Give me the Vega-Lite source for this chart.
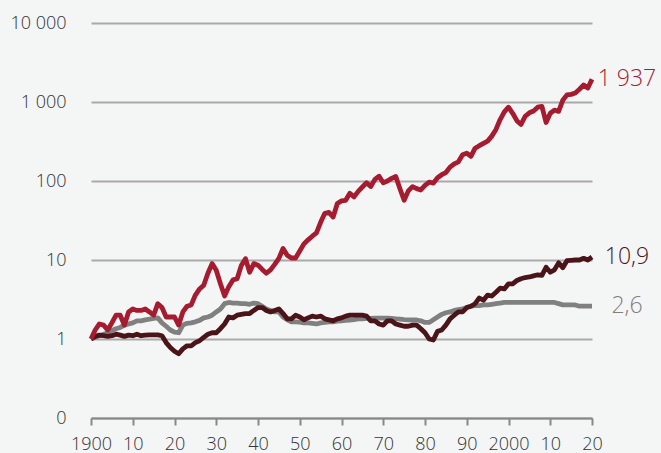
{
  "$schema": "https://vega.github.io/schema/vega-lite/v6.json",
  "width": 501,
  "height": 395,
  "autosize": "none",
  "padding": {"left": 91, "top": 23, "right": 69, "bottom": 35},
  "background": "#f4f5f5",
  "config": {
    "view": {"stroke": null},
    "font": "Open Sans",
    "axis": {"labelFont": "Open Sans", "labelColor": "#333333", "labelFontSize": 18, "labelFontWeight": 300}
  },
  "datasets": {
    "series": [
      {"year":1900,"Red":1.0,"Dark":1.0,"Gray":1.0},
      {"year":1901,"Red":1.3,"Dark":1.08,"Gray":1.05},
      {"year":1902,"Red":1.55,"Dark":1.12,"Gray":1.1},
      {"year":1903,"Red":1.5,"Dark":1.1,"Gray":1.15},
      {"year":1904,"Red":1.3,"Dark":1.08,"Gray":1.2},
      {"year":1905,"Red":1.6,"Dark":1.1,"Gray":1.28},
      {"year":1906,"Red":2.0,"Dark":1.15,"Gray":1.35},
      {"year":1907,"Red":2.0,"Dark":1.12,"Gray":1.4},
      {"year":1908,"Red":1.5,"Dark":1.08,"Gray":1.5},
      {"year":1909,"Red":2.2,"Dark":1.12,"Gray":1.55},
      {"year":1910,"Red":2.4,"Dark":1.1,"Gray":1.6},
      {"year":1911,"Red":2.3,"Dark":1.15,"Gray":1.7},
      {"year":1912,"Red":2.3,"Dark":1.1,"Gray":1.7},
      {"year":1913,"Red":2.4,"Dark":1.12,"Gray":1.75},
      {"year":1914,"Red":2.2,"Dark":1.13,"Gray":1.78},
      {"year":1915,"Red":2.0,"Dark":1.13,"Gray":1.82},
      {"year":1916,"Red":2.8,"Dark":1.13,"Gray":1.85},
      {"year":1917,"Red":2.5,"Dark":1.1,"Gray":1.6},
      {"year":1918,"Red":1.9,"Dark":0.9,"Gray":1.45},
      {"year":1919,"Red":1.9,"Dark":0.78,"Gray":1.3},
      {"year":1920,"Red":1.9,"Dark":0.7,"Gray":1.22},
      {"year":1921,"Red":1.5,"Dark":0.65,"Gray":1.2},
      {"year":1922,"Red":2.2,"Dark":0.75,"Gray":1.5},
      {"year":1923,"Red":2.6,"Dark":0.82,"Gray":1.58},
      {"year":1924,"Red":2.7,"Dark":0.82,"Gray":1.6},
      {"year":1925,"Red":3.6,"Dark":0.9,"Gray":1.65},
      {"year":1926,"Red":4.3,"Dark":0.95,"Gray":1.72},
      {"year":1927,"Red":4.8,"Dark":1.05,"Gray":1.85},
      {"year":1928,"Red":6.8,"Dark":1.15,"Gray":1.9},
      {"year":1929,"Red":9.0,"Dark":1.2,"Gray":2.0},
      {"year":1930,"Red":7.4,"Dark":1.2,"Gray":2.2},
      {"year":1931,"Red":5.0,"Dark":1.35,"Gray":2.4},
      {"year":1932,"Red":3.5,"Dark":1.55,"Gray":2.8},
      {"year":1933,"Red":4.6,"Dark":1.9,"Gray":2.9},
      {"year":1934,"Red":5.6,"Dark":1.85,"Gray":2.85},
      {"year":1935,"Red":5.8,"Dark":2.0,"Gray":2.85},
      {"year":1936,"Red":8.5,"Dark":2.05,"Gray":2.8},
      {"year":1937,"Red":10.4,"Dark":2.1,"Gray":2.8},
      {"year":1938,"Red":7.0,"Dark":2.1,"Gray":2.75},
      {"year":1939,"Red":9.0,"Dark":2.3,"Gray":2.85},
      {"year":1940,"Red":8.6,"Dark":2.5,"Gray":2.8},
      {"year":1941,"Red":7.6,"Dark":2.5,"Gray":2.6},
      {"year":1942,"Red":6.8,"Dark":2.3,"Gray":2.4},
      {"year":1943,"Red":7.5,"Dark":2.2,"Gray":2.3},
      {"year":1944,"Red":8.8,"Dark":2.3,"Gray":2.2},
      {"year":1945,"Red":10.5,"Dark":2.4,"Gray":2.2},
      {"year":1946,"Red":14.0,"Dark":2.1,"Gray":1.9},
      {"year":1947,"Red":11.5,"Dark":1.8,"Gray":1.75},
      {"year":1948,"Red":10.6,"Dark":1.8,"Gray":1.65},
      {"year":1949,"Red":10.6,"Dark":2.0,"Gray":1.65},
      {"year":1950,"Red":13.0,"Dark":1.9,"Gray":1.64},
      {"year":1951,"Red":16.0,"Dark":1.75,"Gray":1.6},
      {"year":1952,"Red":18.0,"Dark":1.85,"Gray":1.6},
      {"year":1953,"Red":20.0,"Dark":1.95,"Gray":1.58},
      {"year":1954,"Red":22.0,"Dark":1.9,"Gray":1.55},
      {"year":1955,"Red":30.0,"Dark":1.95,"Gray":1.6},
      {"year":1956,"Red":39.0,"Dark":1.8,"Gray":1.62},
      {"year":1957,"Red":40.0,"Dark":1.75,"Gray":1.65},
      {"year":1958,"Red":35.0,"Dark":1.7,"Gray":1.65},
      {"year":1959,"Red":52.0,"Dark":1.8,"Gray":1.68},
      {"year":1960,"Red":56.0,"Dark":1.85,"Gray":1.7},
      {"year":1961,"Red":57.0,"Dark":1.95,"Gray":1.72},
      {"year":1962,"Red":70.0,"Dark":2.0,"Gray":1.74},
      {"year":1963,"Red":63.0,"Dark":2.0,"Gray":1.76},
      {"year":1964,"Red":74.0,"Dark":2.0,"Gray":1.8},
      {"year":1965,"Red":84.0,"Dark":2.0,"Gray":1.8},
      {"year":1966,"Red":95.0,"Dark":1.95,"Gray":1.82},
      {"year":1967,"Red":85.0,"Dark":1.7,"Gray":1.82},
      {"year":1968,"Red":105.0,"Dark":1.7,"Gray":1.84},
      {"year":1969,"Red":115.0,"Dark":1.55,"Gray":1.84},
      {"year":1970,"Red":95.0,"Dark":1.5,"Gray":1.84},
      {"year":1971,"Red":100.0,"Dark":1.7,"Gray":1.84},
      {"year":1972,"Red":108.0,"Dark":1.7,"Gray":1.82},
      {"year":1973,"Red":114.0,"Dark":1.55,"Gray":1.8},
      {"year":1974,"Red":80.0,"Dark":1.5,"Gray":1.78},
      {"year":1975,"Red":57.0,"Dark":1.45,"Gray":1.76},
      {"year":1976,"Red":75.0,"Dark":1.45,"Gray":1.75},
      {"year":1977,"Red":85.0,"Dark":1.5,"Gray":1.74},
      {"year":1978,"Red":80.0,"Dark":1.5,"Gray":1.74},
      {"year":1979,"Red":77.0,"Dark":1.35,"Gray":1.7},
      {"year":1980,"Red":88.0,"Dark":1.2,"Gray":1.62},
      {"year":1981,"Red":97.0,"Dark":1.0,"Gray":1.62},
      {"year":1982,"Red":94.0,"Dark":0.97,"Gray":1.75},
      {"year":1983,"Red":110.0,"Dark":1.25,"Gray":1.9},
      {"year":1984,"Red":120.0,"Dark":1.3,"Gray":2.05},
      {"year":1985,"Red":128.0,"Dark":1.5,"Gray":2.15},
      {"year":1986,"Red":150.0,"Dark":1.8,"Gray":2.2},
      {"year":1987,"Red":165.0,"Dark":2.0,"Gray":2.3},
      {"year":1988,"Red":175.0,"Dark":2.2,"Gray":2.35},
      {"year":1989,"Red":215.0,"Dark":2.2,"Gray":2.4},
      {"year":1990,"Red":225.0,"Dark":2.5,"Gray":2.5},
      {"year":1991,"Red":205.0,"Dark":2.6,"Gray":2.6},
      {"year":1992,"Red":260.0,"Dark":2.8,"Gray":2.65},
      {"year":1993,"Red":280.0,"Dark":3.3,"Gray":2.65},
      {"year":1994,"Red":300.0,"Dark":3.1,"Gray":2.7},
      {"year":1995,"Red":320.0,"Dark":3.6,"Gray":2.7},
      {"year":1996,"Red":370.0,"Dark":3.5,"Gray":2.75},
      {"year":1997,"Red":450.0,"Dark":3.9,"Gray":2.8},
      {"year":1998,"Red":600.0,"Dark":4.4,"Gray":2.85},
      {"year":1999,"Red":750.0,"Dark":4.3,"Gray":2.9},
      {"year":2000,"Red":860.0,"Dark":5.0,"Gray":2.9},
      {"year":2001,"Red":720.0,"Dark":5.0,"Gray":2.9},
      {"year":2002,"Red":580.0,"Dark":5.5,"Gray":2.9},
      {"year":2003,"Red":520.0,"Dark":5.8,"Gray":2.9},
      {"year":2004,"Red":660.0,"Dark":6.0,"Gray":2.9},
      {"year":2005,"Red":730.0,"Dark":6.1,"Gray":2.9},
      {"year":2006,"Red":770.0,"Dark":6.3,"Gray":2.9},
      {"year":2007,"Red":860.0,"Dark":6.5,"Gray":2.9},
      {"year":2008,"Red":880.0,"Dark":6.4,"Gray":2.9},
      {"year":2009,"Red":550.0,"Dark":8.1,"Gray":2.9},
      {"year":2010,"Red":720.0,"Dark":7.0,"Gray":2.9},
      {"year":2011,"Red":790.0,"Dark":7.5,"Gray":2.9},
      {"year":2012,"Red":760.0,"Dark":9.2,"Gray":2.8},
      {"year":2013,"Red":1050.0,"Dark":8.0,"Gray":2.7},
      {"year":2014,"Red":1230.0,"Dark":9.8,"Gray":2.7},
      {"year":2015,"Red":1250.0,"Dark":9.9,"Gray":2.7},
      {"year":2016,"Red":1300.0,"Dark":10.0,"Gray":2.7},
      {"year":2017,"Red":1450.0,"Dark":10.0,"Gray":2.6},
      {"year":2018,"Red":1640.0,"Dark":10.5,"Gray":2.6},
      {"year":2019,"Red":1500.0,"Dark":10.0,"Gray":2.6},
      {"year":2020,"Red":1937.0,"Dark":10.9,"Gray":2.6}
    ],
    "labels": [
      {"year":2020,"series":"Red","value":1937,"text":"1 937"},
      {"year":2020,"series":"Dark","value":10.9,"text":"10,9"},
      {"year":2020,"series":"Gray","value":2.6,"text":"2,6"}
    ]
  },
  "layer": [
    {
      "data": {"name": "series"},
      "transform": [{"fold": ["Gray", "Dark", "Red"], "as": ["series", "value"]}],
      "mark": {"type": "line", "strokeWidth": 4.8, "strokeJoin": "round", "strokeCap": "butt"},
      "encoding": {
        "x": {
          "field": "year", "type": "quantitative",
          "scale": {"domain": [1900, 2020], "nice": false, "zero": false},
          "axis": {
            "title": null, "grid": false,
            "values": [1900,1905,1910,1915,1920,1925,1930,1935,1940,1945,1950,1955,1960,1965,1970,1975,1980,1985,1990,1995,2000,2005,2010,2015,2020],
            "labelExpr": "datum.value % 10 != 0 ? '' : (datum.value == 1900 || datum.value == 2000 ? '' + datum.value : substring('' + datum.value, 2))",
            "domainColor": "#888888", "domainWidth": 2,
            "tickColor": "#888888", "tickWidth": 2, "tickSize": 7,
            "labelPadding": 10, "labelFlush": false, "labelOverlap": false
          }
        },
        "y": {
          "field": "value", "type": "quantitative",
          "scale": {"type": "log", "domain": [0.1, 10000], "nice": false},
          "axis": {
            "title": null, "domain": false, "ticks": false,
            "values": [0.1, 1, 10, 100, 1000, 10000],
            "labelExpr": "datum.value < 0.5 ? '0' : datum.value == 1000 ? '1 000' : datum.value == 10000 ? '10 000' : '' + datum.value",
            "gridColor": "#aaaaaa", "gridWidth": 2,
            "labelPadding": 25
          }
        },
        "color": {
          "field": "series", "type": "nominal", "legend": null,
          "scale": {"domain": ["Red", "Dark", "Gray"], "range": ["#a51c30", "#4b1419", "#808080"]}
        },
        "order": {"field": "series", "sort": "descending"}
      }
    },
    {
      "data": {"name": "labels"},
      "mark": {"type": "text", "align": "center", "baseline": "middle", "dx": 35, "fontSize": 23, "font": "Open Sans", "fontWeight": 300},
      "encoding": {
        "x": {"field": "year", "type": "quantitative"},
        "y": {"field": "value", "type": "quantitative"},
        "text": {"field": "text"},
        "color": {
          "field": "series", "type": "nominal", "legend": null,
          "scale": {"domain": ["Red", "Dark", "Gray"], "range": ["#a51c30", "#4b1419", "#808080"]}
        }
      }
    }
  ]
}
